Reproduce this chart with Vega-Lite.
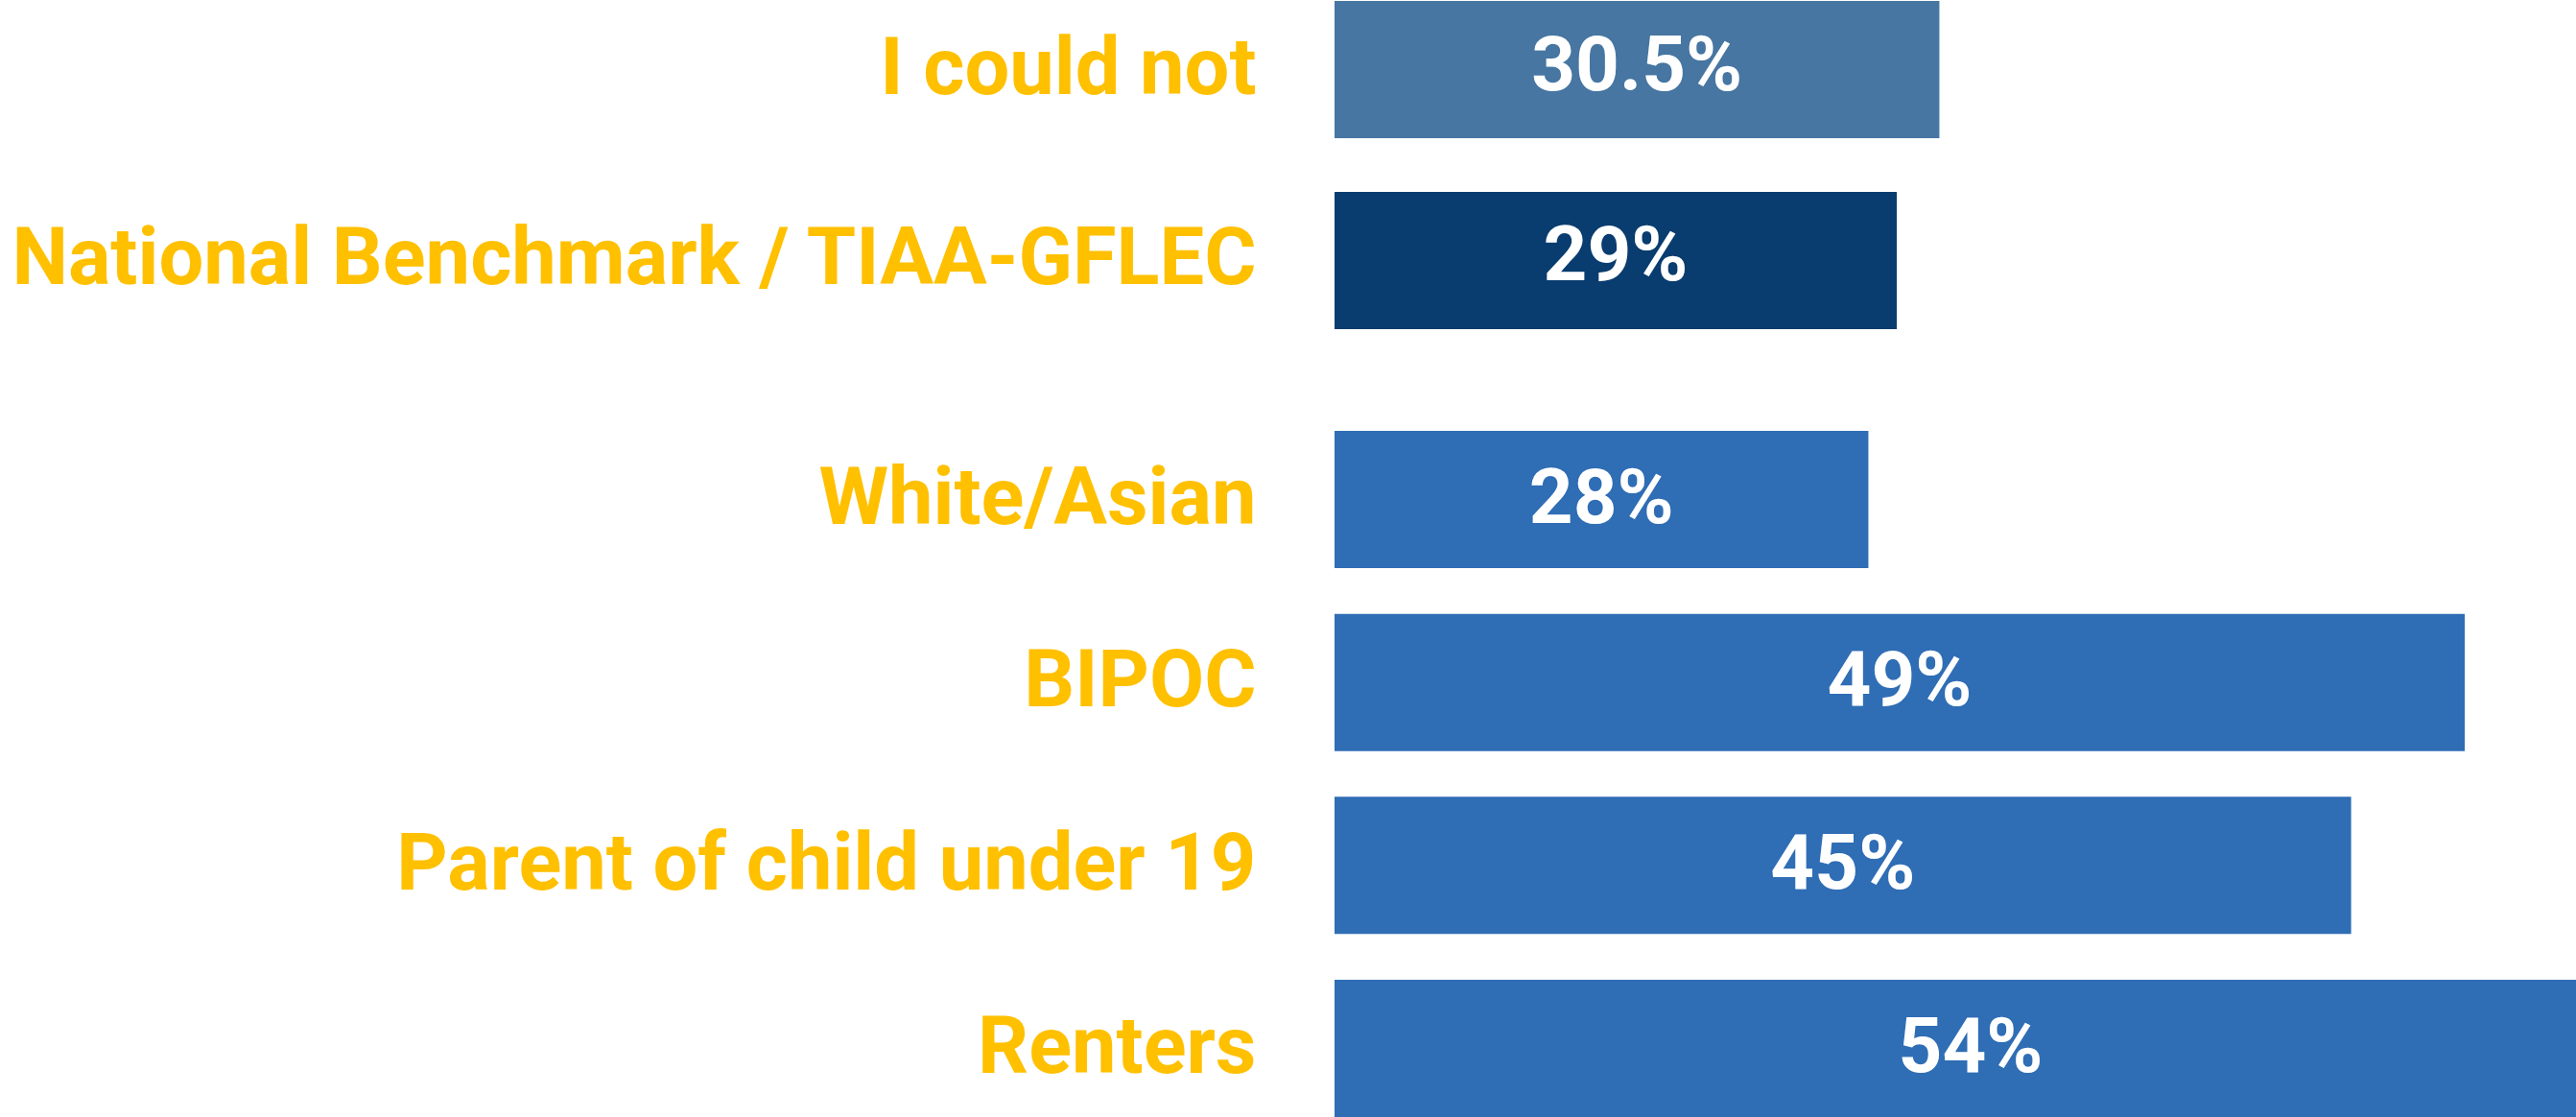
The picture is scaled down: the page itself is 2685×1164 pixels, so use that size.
{
  "$schema": "https://vega.github.io/schema/vega-lite/v6.json",
  "background": "white",
  "padding": {"left": 9, "top": 1, "right": 0, "bottom": 0},
  "spacing": 106,
  "config": {
    "view": {"stroke": null},
    "axisY": {
      "title": null,
      "domain": false,
      "ticks": false,
      "grid": false,
      "labelFont": "Roboto",
      "labelFontWeight": "bold",
      "labelFontSize": 83,
      "labelColor": "#FFC000",
      "labelPadding": 82,
      "labelLimit": 3000
    }
  },
  "vconcat": [
    {
      "width": 1326,
      "height": 342,
      "data": {"values": [
        {"label": "I could not", "value": 30.5, "text": "30.5%"},
        {"label": "National Benchmark / TIAA-GFLEC", "value": 29, "text": "29%"}
      ]},
      "encoding": {
        "y": {"field": "label", "type": "nominal", "sort": null,
              "scale": {"paddingInner": 0.281, "paddingOuter": 0}}
      },
      "layer": [
        {
          "mark": {"type": "bar", "clip": true},
          "encoding": {
            "x": {"field": "value", "type": "quantitative",
                  "scale": {"domain": [9.2, 54], "zero": false, "nice": false}, "axis": null},
            "color": {"field": "label", "type": "nominal", "legend": null,
                      "scale": {"domain": ["I could not", "National Benchmark / TIAA-GFLEC"],
                                "range": ["#4676A1", "#093C6F"]}}
          }
        },
        {
          "mark": {"type": "text", "font": "Roboto", "fontWeight": "bold",
                   "fontSize": 80, "color": "white", "align": "center", "baseline": "middle", "dy": -3},
          "encoding": {
            "x": {"field": "value", "type": "quantitative",
                  "scale": {"domain": [9.2, 98.8], "zero": false, "nice": false}, "axis": null},
            "text": {"field": "text"}
          }
        }
      ],
      "resolve": {"scale": {"x": "independent"}}
    },
    {
      "width": 1326,
      "height": 715,
      "data": {"values": [
        {"label": "White/Asian", "value": 28, "text": "28%"},
        {"label": "BIPOC", "value": 49, "text": "49%"},
        {"label": "Parent of child under 19", "value": 45, "text": "45%"},
        {"label": "Renters", "value": 54, "text": "54%"}
      ]},
      "encoding": {
        "y": {"field": "label", "type": "nominal", "sort": null,
              "scale": {"paddingInner": 0.25, "paddingOuter": 0}}
      },
      "layer": [
        {
          "mark": {"type": "bar", "color": "#2F6DB5", "clip": true},
          "encoding": {
            "x": {"field": "value", "type": "quantitative",
                  "scale": {"domain": [9.2, 54], "zero": false, "nice": false}, "axis": null}
          }
        },
        {
          "mark": {"type": "text", "font": "Roboto", "fontWeight": "bold",
                   "fontSize": 80, "color": "white", "align": "center", "baseline": "middle"},
          "encoding": {
            "x": {"field": "value", "type": "quantitative",
                  "scale": {"domain": [9.2, 98.8], "zero": false, "nice": false}, "axis": null},
            "text": {"field": "text"}
          }
        }
      ],
      "resolve": {"scale": {"x": "independent"}}
    }
  ]
}
